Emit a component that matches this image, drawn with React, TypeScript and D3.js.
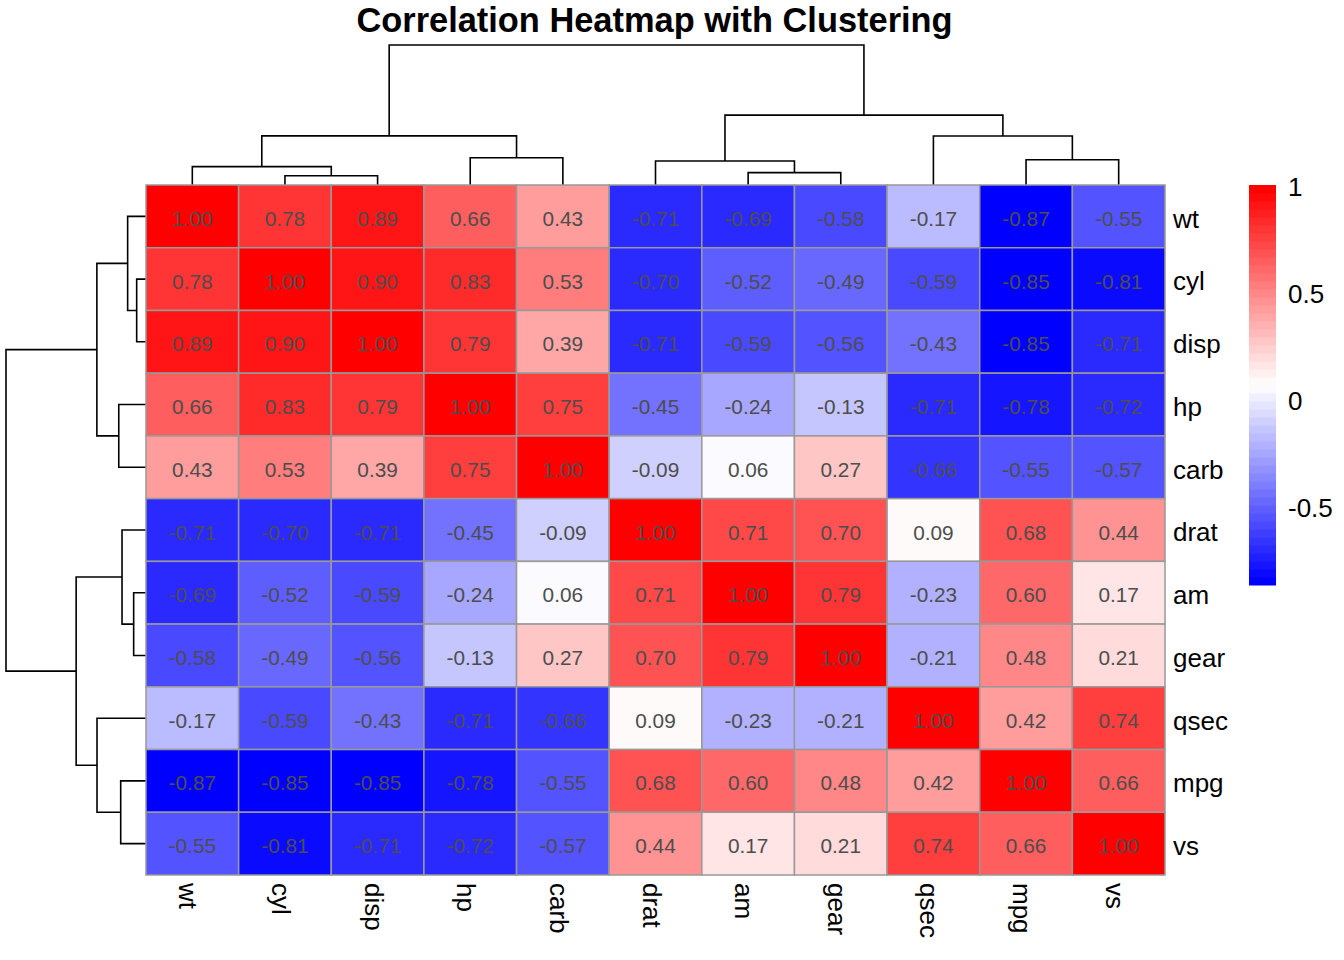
import * as d3 from 'd3'

const title = 'Correlation Heatmap with Clustering'

const labels = ['wt', 'cyl', 'disp', 'hp', 'carb', 'drat', 'am', 'gear', 'qsec', 'mpg', 'vs']

const corr: number[][] = [
  [1.00, 0.78, 0.89, 0.66, 0.43, -0.71, -0.69, -0.58, -0.17, -0.87, -0.55],
  [0.78, 1.00, 0.90, 0.83, 0.53, -0.70, -0.52, -0.49, -0.59, -0.85, -0.81],
  [0.89, 0.90, 1.00, 0.79, 0.39, -0.71, -0.59, -0.56, -0.43, -0.85, -0.71],
  [0.66, 0.83, 0.79, 1.00, 0.75, -0.45, -0.24, -0.13, -0.71, -0.78, -0.72],
  [0.43, 0.53, 0.39, 0.75, 1.00, -0.09, 0.06, 0.27, -0.66, -0.55, -0.57],
  [-0.71, -0.70, -0.71, -0.45, -0.09, 1.00, 0.71, 0.70, 0.09, 0.68, 0.44],
  [-0.69, -0.52, -0.59, -0.24, 0.06, 0.71, 1.00, 0.79, -0.23, 0.60, 0.17],
  [-0.58, -0.49, -0.56, -0.13, 0.27, 0.70, 0.79, 1.00, -0.21, 0.48, 0.21],
  [-0.17, -0.59, -0.43, -0.71, -0.66, 0.09, -0.23, -0.21, 1.00, 0.42, 0.74],
  [-0.87, -0.85, -0.85, -0.78, -0.55, 0.68, 0.60, 0.48, 0.42, 1.00, 0.66],
  [-0.55, -0.81, -0.71, -0.72, -0.57, 0.44, 0.17, 0.21, 0.74, 0.66, 1.00],
]

// hclust-style merges: negative = leaf (1-based), positive = earlier merge (1-based), then height
const merges: [number, number, number][] = [
  [-2, -3, 0.315],
  [-7, -8, 0.417],
  [-1, 1, 0.62],
  [-6, 2, 0.81],
  [-10, -11, 0.855],
  [-4, -5, 0.92],
  [-9, 5, 1.655],
  [3, 6, 1.66],
  [4, 7, 2.36],
  [8, 9, 4.73],
]

const legendTicks = [-0.5, 0, 0.5, 1]

const W = 1344
const H = 960
const left = 146
const right = 1165
const top = 185
const bottom = 875
const treeSize = 140
const font = "'Liberation Sans', Arial, Helvetica, sans-serif"

export default function App() {
  const x = d3.scaleBand<string>().domain(labels).range([left, right])
  const y = d3.scaleBand<string>().domain(labels).range([top, bottom])

  const vmin = d3.min(corr.flat()) as number
  const vmax = d3.max(corr.flat()) as number
  const nColors = 50
  const ramp = d3.piecewise(d3.interpolateRgb, ['#0000FF', '#FFFFFF', '#FF0000'])
  const palette = d3.range(nColors).map(i => d3.rgb(ramp(i / (nColors - 1))).formatHex())
  const color = d3.scaleQuantize<string>().domain([vmin, vmax]).range(palette)

  const maxH = d3.max(merges, m => m[2]) as number
  const colH = d3.scaleLinear().domain([0, maxH]).range([top, top - treeSize])
  const rowH = d3.scaleLinear().domain([0, maxH]).range([left, left - treeSize])

  // node positions along the leaf axis (in band units)
  const nodePos: number[] = []
  const nodeHt: number[] = []
  const getNode = (k: number) =>
    k < 0 ? { p: -k - 1 + 0.5, h: 0 } : { p: nodePos[k - 1], h: nodeHt[k - 1] }
  const segs: { a: { p: number; h: number }; b: { p: number; h: number }; h: number }[] = []
  merges.forEach(([ia, ib, h], i) => {
    const a = getNode(ia)
    const b = getNode(ib)
    nodePos[i] = (a.p + b.p) / 2
    nodeHt[i] = h
    segs.push({ a, b, h })
  })
  const step = x.step()
  const rstep = y.step()

  const colPaths = segs.map(s => {
    const xa = left + s.a.p * step
    const xb = left + s.b.p * step
    return `M${xa},${colH(s.a.h)}V${colH(s.h)}H${xb}V${colH(s.b.h)}`
  })
  const rowPaths = segs.map(s => {
    const ya = top + s.a.p * rstep
    const yb = top + s.b.p * rstep
    return `M${rowH(s.a.h)},${ya}H${rowH(s.h)}V${yb}H${rowH(s.b.h)}`
  })

  // legend
  const legX = 1249
  const legW = 27
  const legY = d3.scaleLinear().domain([vmin, vmax]).range([585, 185])
  const legBins = d3.range(nColors).map(i => {
    const v0 = vmin + ((vmax - vmin) * i) / nColors
    const v1 = vmin + ((vmax - vmin) * (i + 1)) / nColors
    return { y0: legY(v1), y1: legY(v0), c: palette[i] }
  })

  return (
    <svg width={W} height={H} style={{ position: 'absolute', left: 0, top: 0, background: '#fff' }} fontFamily={font}>
      <rect width={W} height={H} fill="#fff" />
      <text x={(left + right) / 2 - 1} y={32} textAnchor="middle" fontSize={34.4} fontWeight="bold" fill="#000">
        {title}
      </text>

      <g fill="none" stroke="#000" strokeWidth={1.6}>
        {colPaths.map((d, i) => <path key={'c' + i} d={d} />)}
        {rowPaths.map((d, i) => <path key={'r' + i} d={d} />)}
      </g>

      <g>
        {corr.map((row, ri) =>
          row.map((v, ci) => (
            <rect
              key={ri + '-' + ci}
              x={x(labels[ci])}
              y={y(labels[ri])}
              width={x.bandwidth()}
              height={y.bandwidth()}
              fill={color(v)}
              stroke="#999999"
              strokeWidth={1.5}
            />
          ))
        )}
      </g>
      <g fontSize={20.8} fill="#4D4D4D" textAnchor="middle">
        {corr.map((row, ri) =>
          row.map((v, ci) => (
            <text
              key={'t' + ri + '-' + ci}
              x={(x(labels[ci]) as number) + x.bandwidth() / 2}
              y={(y(labels[ri]) as number) + y.bandwidth() / 2 + 2.3}
              dy="0.35em"
            >
              {v.toFixed(2)}
            </text>
          ))
        )}
      </g>

      <g fontSize={26} fill="#000">
        {labels.map(l => (
          <text key={'rl' + l} x={right + 8} y={(y(l) as number) + y.bandwidth() / 2 + 11.4}>
            {l}
          </text>
        ))}
        {labels.map(l => {
          const cx = (x(l) as number) + x.bandwidth() / 2
          const cy = bottom + 8
          return (
            <text key={'cl' + l} x={0} y={0} dy="0.5em" transform={`translate(${cx},${cy}) rotate(90)`}>
              {l}
            </text>
          )
        })}
      </g>

      <g>
        {legBins.map((b, i) => (
          <rect key={'lb' + i} x={legX} y={b.y0} width={legW} height={b.y1 - b.y0 + 0.5} fill={b.c} />
        ))}
        {legendTicks.map(t => (
          <text key={'lt' + t} x={legX + legW + 12} y={legY(t) + 2} dy="0.35em" fontSize={26} fill="#000">
            {t}
          </text>
        ))}
      </g>
    </svg>
  )
}
